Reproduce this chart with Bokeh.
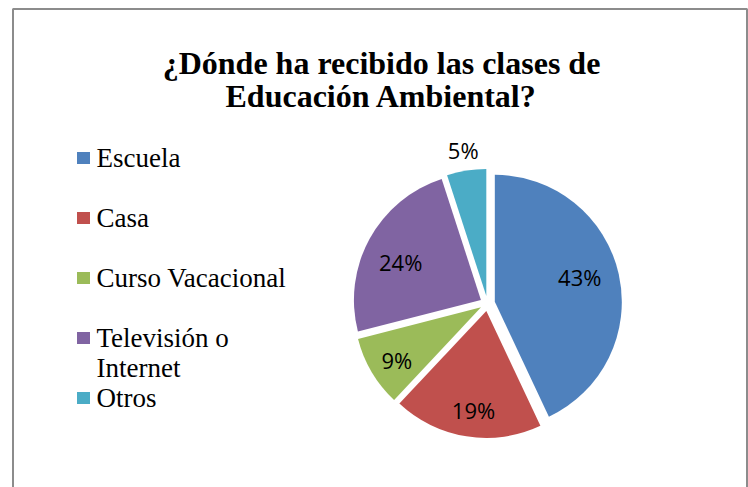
import math
from bokeh.plotting import figure
from bokeh.models import Range1d
from bokeh.core.properties import value
from bokeh.embed import file_html
from bokeh.resources import INLINE

# ---- data ----
title_lines = ["¿Dónde ha recibido las clases de", "Educación Ambiental?"]
categories = ["Escuela", "Casa", "Curso Vacacional", "Televisión o\nInternet", "Otros"]
percents = [43, 19, 9, 24, 5]
colors = ["#4F81BD", "#C0504D", "#9BBB59", "#8064A2", "#4BACC6"]

W, H = 748, 487
# coordinates: x = screen x, y = -screen y
p = figure(width=W, height=H, output_backend="svg", toolbar_location=None,
           x_range=Range1d(0, W), y_range=Range1d(-H, 0),
           min_border=0, outline_line_color=None)
p.axis.visible = False
p.grid.visible = False
p.background_fill_color = "white"
p.border_fill_color = "white"

# chart area border (bottom is cut off in the reference)
bx0, bx1, by0, by1 = 12.5, 746.5, -8.5, -(H + 5)
p.line([bx0, bx0, bx1, bx1], [by1, by0, by0, by1], line_color="#8c8c8c", line_width=2)

# title
p.text(x=[381, 381], y=[-62, -95], text=title_lines, text_align="center",
       text_baseline="alphabetic", text_font=value("Liberation Serif"),
       text_font_style="bold", text_font_size="32px", text_color="black")

# pie
cx, cy, R, ex = 487, -303, 127, 7.5
total = sum(percents)
cum = 0.0
xs, ys, sa, ea, lx, ly, lt = [], [], [], [], [], [], []
for pct in percents:
    f = pct / total
    a0 = math.pi / 2 - 2 * math.pi * cum
    a1 = math.pi / 2 - 2 * math.pi * (cum + f)
    mid = (a0 + a1) / 2
    xs.append(cx + ex * math.cos(mid))
    ys.append(cy + ex * math.sin(mid))
    sa.append(a0)
    ea.append(a1)
    if f < 0.08:
        r_lab, rot = 155, 0.0
    elif f >= 0.2:
        r_lab, rot = 96, math.radians(3.5)
    else:
        r_lab, rot = 107, math.radians(1.5)
    lx.append(cx + r_lab * math.cos(mid + rot))
    ly.append(cy + r_lab * math.sin(mid + rot))
    lt.append(f"{pct}%")
    cum += f

p.wedge(x=xs, y=ys, radius=R, start_angle=sa, end_angle=ea, direction="clock",
        fill_color=colors, line_color=None)
p.text(x=lx, y=ly, text=lt, text_align="center", text_baseline="middle",
       text_font=value("Open Sans"), text_font_size="22px", text_color="black")

# legend
line_h = 30
y0 = 157.5
line_idx = 0
sq_x, sq_y, tx, ty, tt = [], [], [], [], []
for cat in categories:
    parts = cat.split("\n")
    yy = y0 + line_idx * line_h
    sq_x.append(83)
    sq_y.append(-yy)
    for k, part in enumerate(parts):
        tx.append(96)
        ty.append(-(yy + k * line_h))
        tt.append(part)
    line_idx += max(2, len(parts))
p.rect(x=sq_x, y=sq_y, width=13, height=12, fill_color=colors, line_color=None)
p.text(x=tx, y=ty, text=tt, text_align="left", text_baseline="middle",
       text_font=value("Liberation Serif"), text_font_size="27px", text_color="black")

open("out.html", "w").write(file_html(p, INLINE))
